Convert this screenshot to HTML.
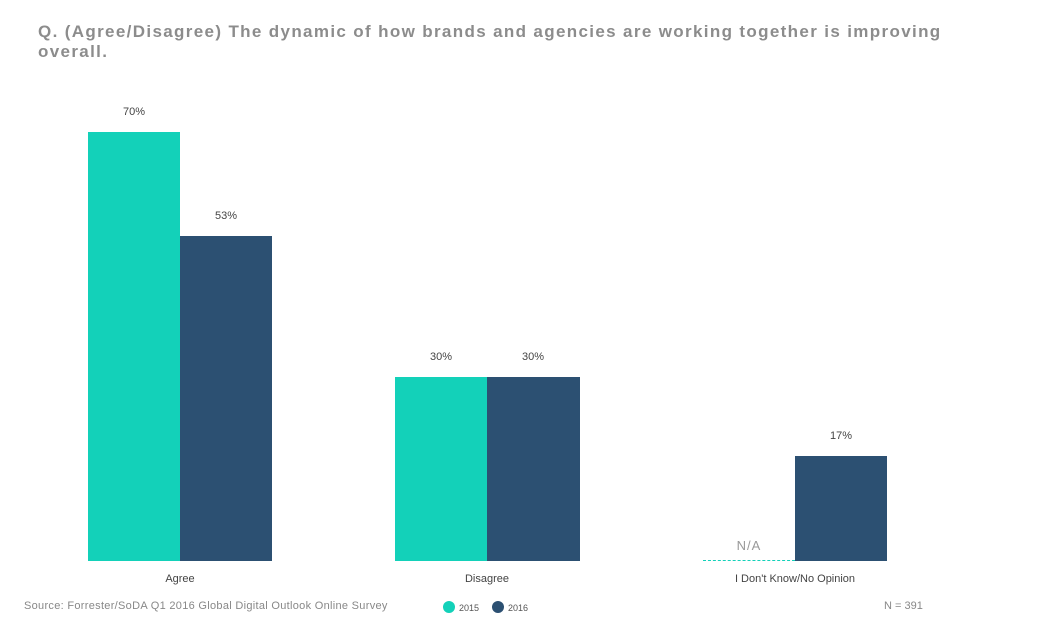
<!DOCTYPE html>
<html><head><style>
body{margin:0;width:1037px;height:643px;background:#fff;font-family:"Liberation Sans",sans-serif;position:relative;overflow:hidden}
.t{position:absolute;left:38px;top:22px;font-size:17px;font-weight:bold;color:#8c8c8c;letter-spacing:1.35px;line-height:20px;width:960px}
.b{position:absolute}
.l{position:absolute;font-size:11px;color:#444;text-align:center;width:92px}
.c{position:absolute;font-size:11px;color:#444;text-align:center;width:200px;top:573px}
.s{position:absolute;top:600px;font-size:11px;color:#888}
</style></head><body>
<div class="t">Q. (Agree/Disagree) The dynamic of how brands and agencies are working together is improving overall.</div>
<div class="b" style="left:88px;top:132px;width:92px;height:429px;background:#13d1b9"></div>
<div class="b" style="left:180px;top:236px;width:92px;height:325px;background:#2c5072"></div>
<div class="b" style="left:395px;top:377px;width:92px;height:184px;background:#13d1b9"></div>
<div class="b" style="left:487px;top:377px;width:93px;height:184px;background:#2c5072"></div>
<div class="b" style="left:795px;top:456px;width:92px;height:105px;background:#2c5072"></div>
<div class="b" style="left:703px;top:560px;width:92px;height:0;border-top:1px dashed #13d1b9"></div>
<div class="l" style="left:88px;top:106px">70%</div>
<div class="l" style="left:180px;top:210px">53%</div>
<div class="l" style="left:395px;top:351px">30%</div>
<div class="l" style="left:487px;top:351px">30%</div>
<div class="l" style="left:795px;top:430px">17%</div>
<div class="l" style="left:703px;top:538px;font-size:13px;color:#999;letter-spacing:1px">N/A</div>
<div class="c" style="left:80px">Agree</div>
<div class="c" style="left:387px">Disagree</div>
<div class="c" style="left:695px">I Don't Know/No Opinion</div>
<div class="s" style="left:24px;letter-spacing:0.3px">Source: Forrester/SoDA Q1 2016 Global Digital Outlook Online Survey</div>
<div class="b" style="left:443px;top:601px;width:12px;height:12px;border-radius:50%;background:#13d1b9"></div>
<div class="s" style="left:459px;top:603px;font-size:9px;color:#555">2015</div>
<div class="b" style="left:492px;top:601px;width:12px;height:12px;border-radius:50%;background:#2c5072"></div>
<div class="s" style="left:508px;top:603px;font-size:9px;color:#555">2016</div>
<div class="s" style="left:884px">N = 391</div>
</body></html>
